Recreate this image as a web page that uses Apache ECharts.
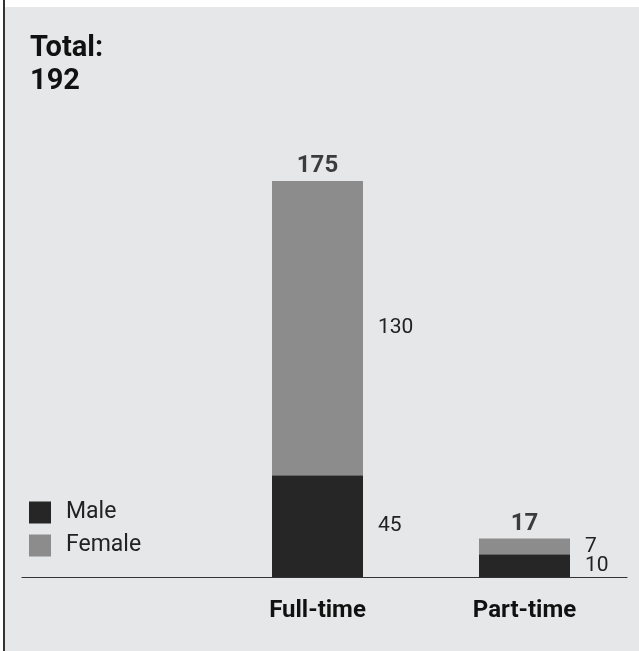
<!DOCTYPE html>
<html><head><meta charset="utf-8">
<script src="https://cdn.jsdelivr.net/npm/echarts@6/dist/echarts.min.js"></script>
<style>
html,body{margin:0;padding:0;background:#fff;}
#wrap{position:relative;width:639px;height:651px;overflow:hidden;}
#panel{position:absolute;left:5px;top:7px;right:0;bottom:0;background:#e6e7e8;}
#border{position:absolute;left:3px;top:0;width:2px;height:651px;background:#333;}
#chart{position:absolute;left:0;top:0;width:639px;height:651px;}
</style></head>
<body>
<div id="wrap"><div id="border"></div><div id="panel"></div><div id="chart"></div></div>
<script>
const categories = ['', 'Full-time', 'Part-time'];
const maleValues = [null, 45, 10];
const femaleValues = [null, 130, 7];
const totalValues = [null, 175, 17];
const grandTotal = 192;

const chart = echarts.init(document.getElementById('chart'), null, {renderer: 'canvas'});
const valueLabel = {show: true, position: 'right', distance: 15, color: '#222', fontSize: 21, fontFamily: 'Roboto'};
chart.setOption({
  backgroundColor: 'transparent',
  animation: false,
  title: {
    text: 'Total:\n' + grandTotal,
    left: 25, top: 27,
    textStyle: {fontFamily: 'Roboto', fontWeight: 'bold', fontSize: 29, color: '#111', lineHeight: 33}
  },
  legend: {
    orient: 'vertical', left: 29, top: 501, padding: 0,
    itemWidth: 22, itemHeight: 22, itemGap: 10,
    icon: 'rect',
    data: ['Male', 'Female'],
    textStyle: {fontFamily: 'Roboto', fontSize: 23, lineHeight: 8, verticalAlign: 'top', color: '#222', padding: [0,0,0,10]}
  },
  grid: [
    {left: 7, right: 11, top: 124.4, bottom: 74},
    {left: 22, right: 12, top: 124.4, bottom: 74}
  ],
  xAxis: [
    {type: 'category', gridIndex: 0, data: categories,
     axisLine: {show: false}, axisTick: {show: false},
     axisLabel: {margin: 22, fontFamily: 'Roboto', fontWeight: 'bold', fontSize: 24, color: '#111'}},
    {type: 'category', gridIndex: 1, data: [''],
     axisLine: {show: true, lineStyle: {color: '#333', width: 1.2}},
     axisTick: {show: false}, axisLabel: {show: false}}
  ],
  yAxis: [
    {type: 'value', gridIndex: 0, min: 0, max: 200, show: false},
    {type: 'value', gridIndex: 1, min: 0, max: 200, show: false}
  ],
  series: [
    {name: 'Male', type: 'bar', stack: 's', barWidth: 91, data: maleValues,
     itemStyle: {color: '#262626'}, label: valueLabel},
    {name: 'Female', type: 'bar', stack: 's', barWidth: 91, data: femaleValues,
     itemStyle: {color: '#8c8c8c'}, label: valueLabel},
    {name: 'Total', type: 'scatter', data: totalValues, symbolSize: 0,
     label: {show: true, position: 'top', distance: 3, formatter: p => p.value,
       fontFamily: 'Roboto', fontWeight: 'bold', fontSize: 24, color: '#111'}}
  ]
});
</script>
</body></html>
